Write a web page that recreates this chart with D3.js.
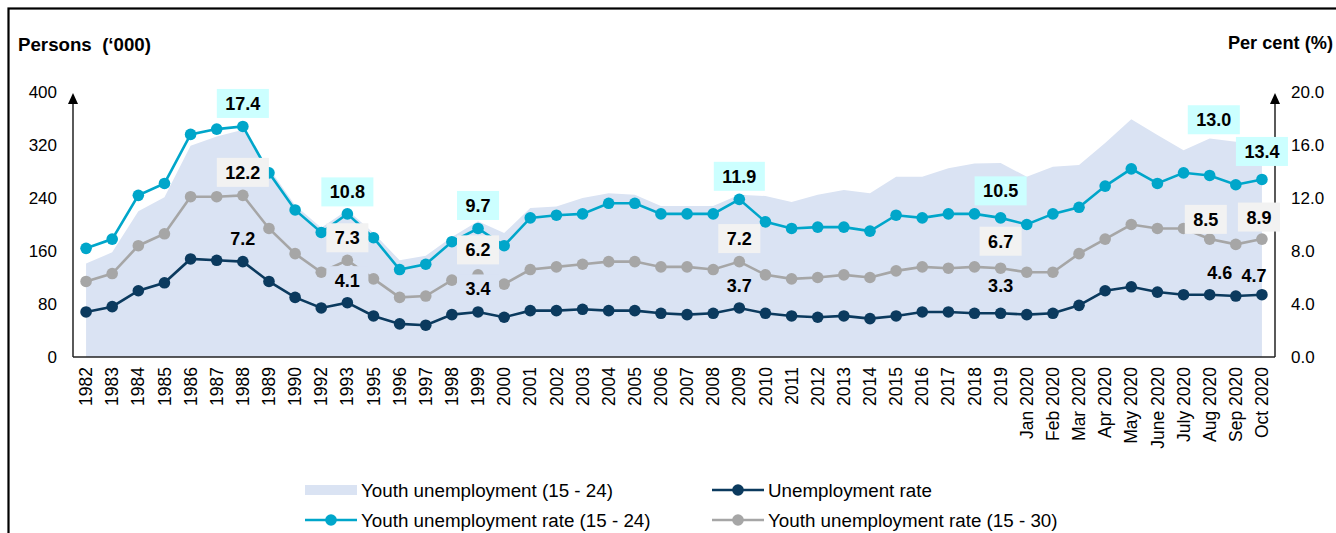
<!DOCTYPE html>
<html>
<head>
<meta charset="utf-8">
<script src="https://cdn.jsdelivr.net/npm/d3@7"></script>
<style>
  html, body { margin: 0; padding: 0; background: #ffffff; }
  svg { display: block; font-family: "Liberation Sans", Arial, sans-serif; }
</style>
</head>
<body>
<svg id="chart" width="1336" height="533"></svg>
<script>
// ---------------- DATA ----------------
const categories = ["1982","1983","1984","1985","1986","1987","1988","1989","1990","1992","1993",
  "1995","1996","1997","1998","1999","2000","2001","2002","2003","2004","2005","2006","2007","2008",
  "2009","2010","2011","2012","2013","2014","2015","2016","2017","2018","2019",
  "Jan 2020","Feb 2020","Mar 2020","Apr 2020","May 2020","June 2020","July 2020","Aug 2020","Sep 2020","Oct 2020"];

// Youth unemployment (15 - 24), persons '000 (left axis)
const youthUnemployment = [141,158,220,241,319,333,343,285,229,195,222,
  187,146,153,181,205,187,225,227,240,247,245,228,228,228,
  245,243,234,245,252,247,272,272,285,292,293,
  272,287,290,323,359,335,312,330,325,323];

// Youth unemployment rate (15 - 24), % (right axis)
const youthRate1524 = [8.2,8.9,12.2,13.1,16.8,17.2,17.4,13.9,11.1,9.4,10.8,
  9.0,6.6,7.0,8.7,9.7,8.4,10.5,10.7,10.8,11.6,11.6,10.8,10.8,10.8,
  11.9,10.2,9.7,9.8,9.8,9.5,10.7,10.5,10.8,10.8,10.5,
  10.0,10.8,11.3,12.9,14.2,13.1,13.9,13.7,13.0,13.4];

// Youth unemployment rate (15 - 30), %
const youthRate1530 = [5.7,6.3,8.4,9.3,12.1,12.1,12.2,9.7,7.8,6.4,7.3,
  5.9,4.5,4.6,5.8,6.2,5.5,6.6,6.8,7.0,7.2,7.2,6.8,6.8,6.6,
  7.2,6.2,5.9,6.0,6.2,6.0,6.5,6.8,6.7,6.8,6.7,
  6.4,6.4,7.8,8.9,10.0,9.7,9.7,8.9,8.5,8.9];

// Unemployment rate, %
const unemploymentRate = [3.4,3.8,5.0,5.6,7.4,7.3,7.2,5.7,4.5,3.7,4.1,
  3.1,2.5,2.4,3.2,3.4,3.0,3.5,3.5,3.6,3.5,3.5,3.3,3.2,3.3,
  3.7,3.3,3.1,3.0,3.1,2.9,3.1,3.4,3.4,3.3,3.3,
  3.2,3.3,3.9,5.0,5.3,4.9,4.7,4.7,4.6,4.7];

const leftTicks = [0,80,160,240,320,400];
const rightTicks = [0,4,8,12,16,20];
const labelledCategories = ["1988","1993","1999","2009","2019","Sep 2020","Oct 2020"];

const legendNames = ["Youth unemployment (15 - 24)","Unemployment rate",
  "Youth unemployment rate (15 - 24)","Youth unemployment rate (15 - 30)"];

// ---------------- LAYOUT / STYLE ----------------
const C = {
  area: "#DAE3F3",
  cyan: "#00A6CA",
  gray: "#A6A6A6",
  navy: "#0B3A5E",
  cyanBox: "#CCFFFF",
  grayBox: "#F2F2F2"
};
const plot = { left: 73, right: 1275, top: 92, bottom: 357 };

// label offsets (dx, dy) from the data point, per series
const labelOffsets = {
  cyan: { "1988":[0,-23], "1993":[0,-22], "1999":[0,-23], "2009":[0,-23], "2019":[0,-27], "Sep 2020":[-22,-65], "Oct 2020":[0,-28] },
  gray: { "1988":[0,-23], "1993":[0,-22.5], "1999":[0,-25], "2009":[0,-23], "2019":[0,-27], "Sep 2020":[-30,-25], "Oct 2020":[-3,-22] },
  navy: { "1988":[0,-23], "1993":[0,-22], "1999":[0,-23], "2009":[0,-22], "2019":[0,-28], "Sep 2020":[-16,-24], "Oct 2020":[-8,-19] }
};
// navy labels that carry a box (area-coloured) masking the point below
const navyBoxed = ["1993","1999"];

const svg = d3.select("#chart");

// Frame
svg.append("rect").attr("x", 8.5).attr("y", 8.5).attr("width", 1400).attr("height", 600)
  .attr("fill", "none").attr("stroke", "#000").attr("stroke-width", 2.2);

// Scales
const x = d3.scaleBand().domain(categories).range([plot.left, plot.right]).padding(0);
const cx = c => x(c) + x.bandwidth() / 2;
const yL = d3.scaleLinear().domain([0, 400]).range([plot.bottom, plot.top]);
const yR = d3.scaleLinear().domain([0, 20]).range([plot.bottom, plot.top]);

// Area
const areaData = categories.map((c, i) => ({ c, v: youthUnemployment[i] }));
svg.append("path").datum(areaData)
  .attr("fill", C.area)
  .attr("d", d3.area().x(d => cx(d.c)).y0(yL(0)).y1(d => yL(d.v)));

// Axes
const FONT = '"Liberation Sans", Arial, sans-serif';
const axL = svg.append("g").attr("transform", `translate(${plot.left},0)`)
  .call(d3.axisLeft(yL).tickValues(leftTicks).tickSize(0).tickPadding(16));
axL.select(".domain").remove();
axL.selectAll("text").attr("font-size", 17).attr("fill", "#000").attr("font-family", FONT);

const axR = svg.append("g").attr("transform", `translate(${plot.right},0)`)
  .call(d3.axisRight(yR).tickValues(rightTicks).tickFormat(d3.format(".1f")).tickSize(0).tickPadding(16));
axR.select(".domain").remove();
axR.selectAll("text").attr("font-size", 17).attr("fill", "#000").attr("font-family", FONT);

const axB = svg.append("g").attr("transform", `translate(0,${plot.bottom})`)
  .call(d3.axisBottom(x).tickSize(0));
axB.select(".domain").remove();
axB.selectAll("text")
  .attr("font-size", 17.5).attr("fill", "#000").attr("font-family", FONT)
  .attr("text-anchor", "end")
  .attr("transform", "rotate(-90)")
  .attr("x", -10).attr("y", 0).attr("dy", "0.35em");

// axis lines with arrows
function vAxis(xp) {
  svg.append("line").attr("x1", xp).attr("x2", xp).attr("y1", plot.bottom).attr("y2", plot.top + 8)
    .attr("stroke", "#000").attr("stroke-width", 1.3);
  svg.append("path").attr("d", `M${xp - 5},${plot.top + 12} L${xp},${plot.top + 1} L${xp + 5},${plot.top + 12} Z`)
    .attr("fill", "#000");
}
vAxis(plot.left);
vAxis(plot.right);
svg.append("line").attr("x1", plot.left).attr("x2", plot.right).attr("y1", plot.bottom).attr("y2", plot.bottom)
  .attr("stroke", "#222").attr("stroke-width", 1.3);

// Lines
const seriesList = [
  { key: "navy", values: unemploymentRate, color: C.navy },
  { key: "gray", values: youthRate1530, color: C.gray },
  { key: "cyan", values: youthRate1524, color: C.cyan }
];
const lineGen = d3.line().x(d => cx(d.c)).y(d => yR(d.v));
seriesList.forEach(s => {
  const pts = categories.map((c, i) => ({ c, v: s.values[i] }));
  svg.append("path").datum(pts).attr("fill", "none").attr("stroke", s.color)
    .attr("stroke-width", 2.6).attr("d", lineGen);
  svg.append("g").selectAll("circle").data(pts).join("circle")
    .attr("cx", d => cx(d.c)).attr("cy", d => yR(d.v)).attr("r", 5.8).attr("fill", s.color);
});

// Data labels
const boxFill = { cyan: C.cyanBox, gray: C.grayBox, navy: C.area };
const labelOrder = ["navy", "gray", "cyan"];
labelOrder.forEach(key => {
  const s = seriesList.find(t => t.key === key);
  labelledCategories.forEach(c => {
    const i = categories.indexOf(c);
    const v = s.values[i];
    const off = labelOffsets[key][c];
    const px = cx(c) + off[0], py = yR(v) + off[1];
    const g = svg.append("g").attr("transform", `translate(${px},${py})`);
    const hasBox = key !== "navy" || navyBoxed.includes(c);
    const rect = g.append("rect").attr("fill", hasBox ? boxFill[key] : "none");
    const t = g.append("text").attr("text-anchor", "middle").attr("dy", "0.36em")
      .attr("font-size", 18).attr("font-weight", "bold").attr("fill", "#000")
      .text(d3.format(".1f")(v));
    const w = t.node().getComputedTextLength() + 17;
    rect.attr("x", -w / 2).attr("y", -14.5).attr("width", w).attr("height", 29);
  });
});

// Axis titles
svg.append("text").attr("x", 18).attr("y", 51).attr("font-size", 18.7).attr("font-weight", "bold")
  .attr("fill", "#000").attr("xml:space", "preserve").text("Persons  (\u2018000)");
svg.append("text").attr("x", 1333).attr("y", 49).attr("text-anchor", "end")
  .attr("font-size", 18.2).attr("font-weight", "bold")
  .attr("fill", "#000").text("Per cent (%)");

// Legend
const leg = svg.append("g").attr("font-size", 18.8).attr("fill", "#000");
const legendItems = [
  { name: legendNames[0], type: "area", color: C.area, x: 305, y: 490 },
  { name: legendNames[1], type: "line", color: C.navy, x: 712, y: 490 },
  { name: legendNames[2], type: "line", color: C.cyan, x: 305, y: 520 },
  { name: legendNames[3], type: "line", color: C.gray, x: 712, y: 520 }
];
legendItems.forEach(it => {
  if (it.type === "area") {
    leg.append("rect").attr("x", it.x).attr("y", it.y - 5).attr("width", 52).attr("height", 10).attr("fill", it.color);
  } else {
    leg.append("line").attr("x1", it.x).attr("x2", it.x + 52).attr("y1", it.y).attr("y2", it.y)
      .attr("stroke", it.color).attr("stroke-width", 2.6);
    leg.append("circle").attr("cx", it.x + 26).attr("cy", it.y).attr("r", 5.8).attr("fill", it.color);
  }
  leg.append("text").attr("x", it.x + 56).attr("y", it.y).attr("dy", "0.35em").text(it.name);
});
</script>
</body>
</html>
